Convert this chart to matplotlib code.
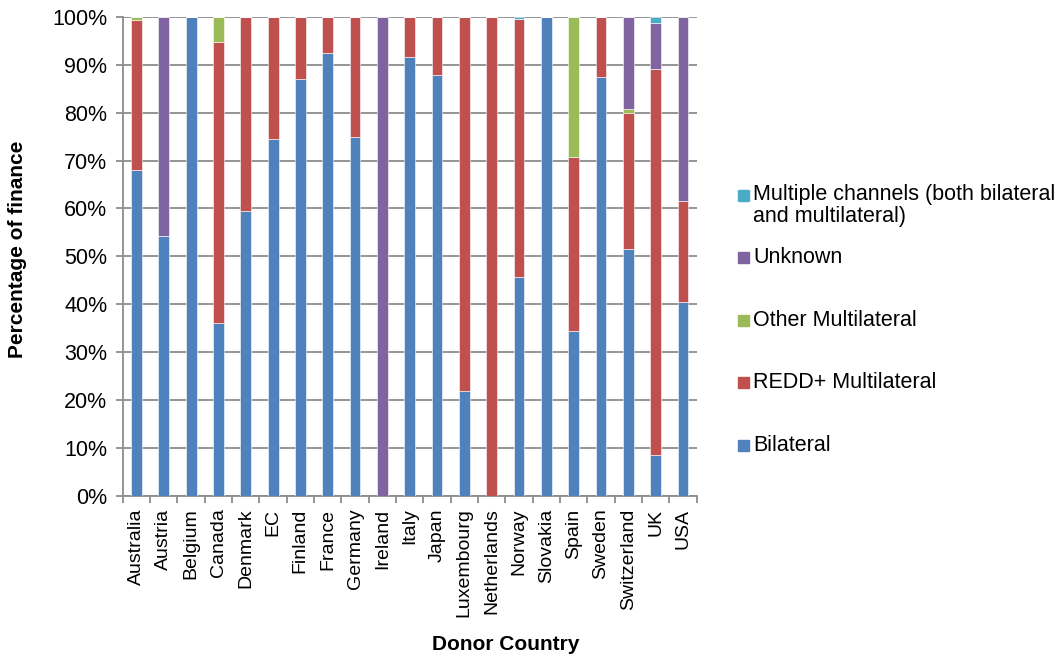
import numpy as np
import matplotlib
matplotlib.use("Agg")
import matplotlib.pyplot as plt
from matplotlib.patches import Rectangle

countries = ["Australia", "Austria", "Belgium", "Canada", "Denmark", "EC", "Finland",
             "France", "Germany", "Ireland", "Italy", "Japan", "Luxembourg", "Netherlands",
             "Norway", "Slovakia", "Spain", "Sweden", "Switzerland", "UK", "USA"]

# shares in percent, bottom to top
bilateral = [68.0, 54.3, 100.0, 36.2, 59.5, 74.5, 87.0, 92.5, 75.0, 0.0, 91.7, 87.8,
             22.0, 0.0, 45.7, 100.0, 34.5, 87.5, 51.5, 8.5, 40.5]
redd      = [31.3, 0.0, 0.0, 58.6, 40.5, 25.5, 13.0, 7.5, 25.0, 0.0, 8.3, 12.2,
             78.0, 100.0, 53.8, 0.0, 36.2, 12.5, 28.5, 80.5, 21.0]
other     = [0.7, 0.0, 0.0, 5.2, 0.0, 0.0, 0.0, 0.0, 0.0, 0.0, 0.0, 0.0,
             0.0, 0.0, 0.0, 0.0, 29.3, 0.0, 0.8, 0.0, 0.0]
unknown   = [0.0, 45.7, 0.0, 0.0, 0.0, 0.0, 0.0, 0.0, 0.0, 100.0, 0.0, 0.0,
             0.0, 0.0, 0.0, 0.0, 0.0, 0.0, 19.2, 9.6, 38.5]
multiple  = [0.0, 0.0, 0.0, 0.0, 0.0, 0.0, 0.0, 0.0, 0.0, 0.0, 0.0, 0.0,
             0.0, 0.0, 0.5, 0.0, 0.0, 0.0, 0.0, 1.4, 0.0]

series = [
    ("Bilateral", bilateral, "#4F81BD"),
    ("REDD+ Multilateral", redd, "#C0504D"),
    ("Other Multilateral", other, "#9BBB59"),
    ("Unknown", unknown, "#8064A2"),
    ("Multiple channels (both bilateral\nand multilateral)", multiple, "#4BACC6"),
]

plt.rcParams.update({"font.family": "Liberation Sans", "font.size": 14})

fig = plt.figure(figsize=(10.57, 6.56), dpi=100)
ax = fig.add_axes([0.1161, 0.2439, 0.543, 0.7306])

x = np.arange(len(countries))
bottom = np.zeros(len(countries))
for name, vals, col in series:
    vals = np.array(vals)
    ax.bar(x, vals, 0.4, bottom=bottom, color=col, edgecolor="white", linewidth=0.4, zorder=3)
    bottom += vals

grid = "#8c8c8c"
ax.set_ylim(0, 100)
ax.set_xlim(-0.5, len(countries) - 0.5)
ax.set_yticks(np.arange(0, 101, 10))
ax.set_yticklabels([f"{v}%" for v in range(0, 101, 10)], fontsize=15.5)
ax.yaxis.grid(True, color=grid, lw=1.3, zorder=0)
ax.set_xticks(x)
ax.set_xticklabels(countries, rotation=90, fontsize=14)
ax.set_xticks(np.arange(-0.5, len(countries)), minor=True)
ax.tick_params(axis="x", which="major", length=0, pad=9)
ax.tick_params(axis="x", which="minor", length=5, color=grid, width=1.3)
ax.tick_params(axis="y", length=5, color=grid, width=1.3, pad=6)
for s in ["top", "right"]:
    ax.spines[s].set_visible(False)
for s in ["left", "bottom"]:
    ax.spines[s].set_color(grid)
    ax.spines[s].set_linewidth(1.3)

fig.text(18 / 1057, 1 - 249 / 656, "Percentage of finance", rotation=90,
         ha="center", va="center", fontsize=15, fontweight="bold")
fig.text(506 / 1057, 1 - 645 / 656, "Donor Country",
         ha="center", va="center", fontsize=15, fontweight="bold")

# legend, top entry first
ys = [195, 257.7, 320, 382, 445.7]
W, H = 1057, 656
for (name, vals, col), yc in zip(series[::-1], ys):
    fig.patches.append(Rectangle((738 / W, 1 - (yc + 5.5) / H), 11 / W, 11 / H,
                                 transform=fig.transFigure, color=col))
    if "\n" in name:
        fig.text(753 / W, 1 - (yc - 11) / H, name, ha="left", va="top",
                 fontsize=15.5, linespacing=1.05)
    else:
        fig.text(753 / W, 1 - yc / H, name, ha="left", va="center", fontsize=15.5)

fig.savefig("out.png", dpi=100)
